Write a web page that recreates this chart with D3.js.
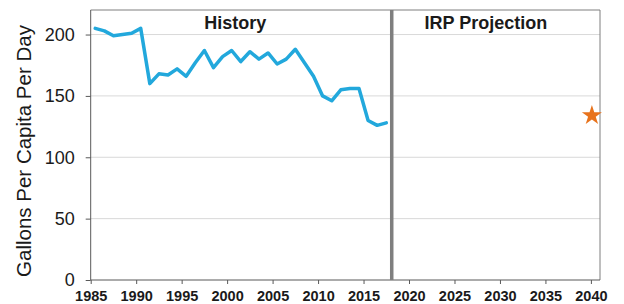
<!DOCTYPE html>
<html>
<head>
<meta charset="utf-8">
<script src="https://cdn.jsdelivr.net/npm/d3@7"></script>
<style>
  body { margin: 0; background: #fff; }
  svg { display: block; font-family: "Liberation Sans", Arial, sans-serif; }
</style>
</head>
<body>
<svg width="624" height="304"></svg>
<script>
// History: annual gallons per capita per day
const years = [1985, 1986, 1987, 1988, 1989, 1990, 1991, 1992, 1993, 1994, 1995,
               1996, 1997, 1998, 1999, 2000, 2001, 2002, 2003, 2004, 2005, 2006,
               2007, 2008, 2009, 2010, 2011, 2012, 2013, 2014, 2015, 2016, 2017];
const gpcd = [205, 203, 199, 200, 201, 205, 160, 168, 167, 172, 166,
              177, 187, 173, 182, 187, 178, 186, 180, 185, 176, 180,
              188, 177, 166, 150, 146, 155, 156, 156, 130, 126, 128];

// IRP projection target
const projYear = [2040];
const projValue = [134];

const xTicks = [1985, 1990, 1995, 2000, 2005, 2010, 2015, 2020, 2025, 2030, 2035, 2040];
const yTicks = [0, 50, 100, 150, 200];
const splitYear = 2018.1;

const svg = d3.select("svg");
const plotL = 90.7, plotR = 600, plotT = 10, plotB = 280;

const x = d3.scaleLinear().domain([1985, 2041]).range([plotL, plotR]);
const y = d3.scaleLinear().domain([0, 220]).range([plotB, plotT]);

// gridlines
svg.append("g")
  .selectAll("line")
  .data(yTicks.filter(d => d > 0))
  .join("line")
  .attr("x1", plotL).attr("x2", plotR)
  .attr("y1", d => y(d)).attr("y2", d => y(d))
  .attr("stroke", "#d9d9d9").attr("stroke-width", 1);

// frame (top + right)
svg.append("path")
  .attr("d", `M${plotL},${plotT}H${plotR}V${plotB}`)
  .attr("fill", "none").attr("stroke", "#7f7f7f").attr("stroke-width", 1);

// y axis
const yAxis = svg.append("g")
  .attr("transform", `translate(${plotL},0)`)
  .call(d3.axisLeft(y).tickValues(yTicks).tickSize(5).tickPadding(11));
yAxis.select(".domain").attr("stroke", "#595959").attr("d", `M0,${plotT}V${plotB}`);
yAxis.selectAll(".tick line").attr("stroke", "#595959");
yAxis.selectAll("text")
  .attr("font-size", 18).attr("fill", "#1a1a1a")
  .attr("font-family", "'Liberation Sans', Arial, sans-serif");

// x axis
const xAxis = svg.append("g")
  .attr("transform", `translate(0,${plotB})`)
  .call(d3.axisBottom(x).tickValues(xTicks).tickFormat(d3.format("d")).tickSize(4).tickPadding(7));
xAxis.select(".domain").attr("d", `M${plotL},0H${plotR}`).attr("stroke", "#595959");
xAxis.selectAll(".tick line").attr("stroke", "#595959");
xAxis.selectAll("text")
  .attr("font-size", 14.5).attr("font-weight", "bold").attr("fill", "#1a1a1a")
  .attr("font-family", "'Liberation Sans', Arial, sans-serif");

// divider between history and projection
svg.append("line")
  .attr("x1", x(splitYear)).attr("x2", x(splitYear))
  .attr("y1", plotT).attr("y2", plotB)
  .attr("stroke", "#7f7f7f").attr("stroke-width", 3.5);

// history line (annual values at mid-year)
const line = d3.line()
  .x((d, i) => x(years[i] + 0.5))
  .y(d => y(d));
svg.append("path")
  .datum(gpcd)
  .attr("d", line)
  .attr("fill", "none")
  .attr("stroke", "#22a8dc")
  .attr("stroke-width", 3.5)
  .attr("stroke-linejoin", "round")
  .attr("stroke-linecap", "round");

// projection star
svg.append("g")
  .selectAll("path")
  .data(projYear)
  .join("path")
  .attr("d", d3.symbol(d3.symbolStar, 125))
  .attr("transform", (d, i) => `translate(${x(d) + 1},${y(projValue[i])})`)
  .attr("fill", "#e8731c");

// panel titles
svg.append("text")
  .attr("x", (x(1985) + x(splitYear)) / 2 - 6).attr("y", 29)
  .attr("text-anchor", "middle")
  .attr("font-size", 18).attr("font-weight", "bold").attr("fill", "#1a1a1a")
  .text("History");
svg.append("text")
  .attr("x", (x(splitYear) + plotR) / 2 - 10).attr("y", 29)
  .attr("text-anchor", "middle")
  .attr("font-size", 18).attr("font-weight", "bold").attr("fill", "#1a1a1a")
  .text("IRP Projection");

// y axis title
svg.append("text")
  .attr("transform", "translate(31,151) rotate(-90)")
  .attr("text-anchor", "middle")
  .attr("font-size", 20.5).attr("fill", "#1a1a1a")
  .text("Gallons Per Capita Per Day");
</script>
</body>
</html>
